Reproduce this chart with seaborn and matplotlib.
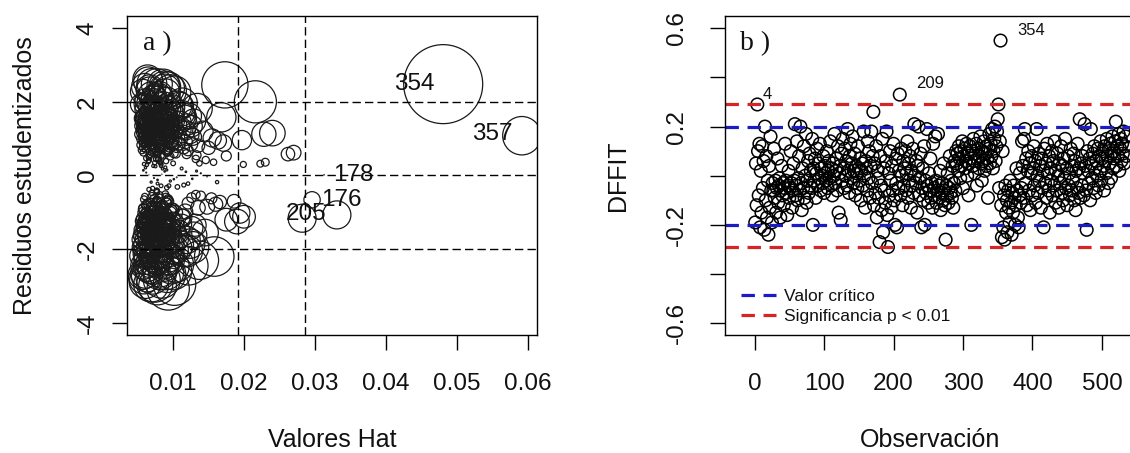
import numpy as np
import pandas as pd
import matplotlib
matplotlib.use("Agg")
import matplotlib.pyplot as plt
import seaborn as sns

# ---------------- panel a: leverage vs studentized residuals ----------------
hat_core = [
    0.0064, 0.0081, 0.0070, 0.0092, 0.0058, 0.0076, 0.0087, 0.0067, 0.0099, 0.0073,
    0.0060, 0.0084, 0.0078, 0.0069, 0.0095, 0.0062, 0.0089, 0.0074, 0.0057, 0.0082,
    0.0071, 0.0093, 0.0066, 0.0079, 0.0086, 0.0061, 0.0075, 0.0103, 0.0068, 0.0090,
    0.0077, 0.0059, 0.0085, 0.0072, 0.0096, 0.0065, 0.0080, 0.0070, 0.0088, 0.0063,
    0.0091, 0.0074, 0.0060, 0.0083, 0.0069, 0.0097, 0.0076, 0.0062, 0.0086, 0.0071,
]
resid_core_up = [
    1.02, 1.44, 0.78, 1.16, 1.27, 0.66, 1.51, 1.35, 0.83, 1.07,
    1.19, 0.94, 1.61, 1.29, 1.38, 0.72, 1.09, 1.47, 1.55, 0.81,
    1.24, 1.52, 1.06, 0.89, 1.32, 1.42, 1.14, 0.91, 0.99, 1.40,
    0.57, 1.31, 1.25, 1.66, 0.86, 1.08, 0.97, 1.78, 1.19, 1.56,
    0.65, 1.37, 1.15, 0.74, 1.49, 1.23, 1.01, 0.93, 1.71, 1.28,
]
resid_core_low = [
    -1.12, -1.54, -0.88, -1.26, -1.37, -0.76, -1.61, -1.45, -0.93, -1.17,
    -1.29, -1.04, -1.71, -1.39, -1.48, -0.82, -1.19, -1.57, -1.65, -0.91,
    -1.34, -1.62, -1.16, -0.99, -1.42, -1.52, -1.24, -1.01, -1.09, -1.50,
    -0.67, -1.41, -1.35, -1.76, -0.96, -1.18, -1.07, -1.88, -1.29, -1.66,
    -0.75, -1.47, -1.25, -0.84, -1.59, -1.33, -1.11, -1.03, -1.81, -1.38,
]
hat_edge = [0.0112, 0.0121, 0.0129, 0.0117, 0.0135, 0.0124, 0.0114, 0.0132, 0.0126, 0.0119]
resid_edge_up = [1.25, 0.68, 1.48, 0.92, 0.81, 1.10, 1.63, 0.45, 1.34, 0.58]
resid_edge_low = [-1.32, -0.75, -1.62, -0.98, -0.88, -1.85, -1.15, -0.52, -1.42, -2.05]

hat_vals = [
    # upper cloud
    0.0061, 0.0072, 0.0085, 0.0058, 0.0093, 0.0067, 0.0079, 0.0102, 0.0064, 0.0088,
    0.0075, 0.0056, 0.0097, 0.0069, 0.0083, 0.0110, 0.0063, 0.0091, 0.0071, 0.0059,
    0.0087, 0.0066, 0.0078, 0.0105, 0.0060, 0.0094, 0.0073, 0.0082, 0.0057, 0.0099,
    0.0068, 0.0090, 0.0062, 0.0077, 0.0115, 0.0084, 0.0055, 0.0070, 0.0096, 0.0065,
    0.0080, 0.0059, 0.0092, 0.0074, 0.0063, 0.0101, 0.0086, 0.0067, 0.0108, 0.0076,
    0.0061, 0.0089, 0.0071, 0.0054, 0.0095, 0.0081, 0.0066, 0.0112, 0.0073, 0.0058,
    0.0098, 0.0069, 0.0084, 0.0060, 0.0078, 0.0093, 0.0064, 0.0087, 0.0075, 0.0104,
    0.0057, 0.0072, 0.0118, 0.0066, 0.0090, 0.0079, 0.0062, 0.0100, 0.0083, 0.0070,
    0.0086, 0.0059, 0.0077, 0.0095, 0.0065, 0.0081, 0.0107, 0.0072, 0.0056, 0.0091,
    0.0063, 0.0085, 0.0074, 0.0102, 0.0068, 0.0060, 0.0089, 0.0079, 0.0097, 0.0071,
    0.0058, 0.0094, 0.0067, 0.0082, 0.0113, 0.0075, 0.0061, 0.0088, 0.0070, 0.0099,
    0.0084, 0.0065, 0.0076, 0.0092, 0.0056, 0.0080, 0.0069, 0.0105, 0.0062, 0.0087,
    0.0073, 0.0090, 0.0059, 0.0078, 0.0096, 0.0066, 0.0083, 0.0071, 0.0110, 0.0064,
    0.0087, 0.0070, 0.0061, 0.0101, 0.0077, 0.0054, 0.0093, 0.0068, 0.0082, 0.0075,
    0.0095, 0.0062, 0.0080, 0.0072, 0.0116, 0.0088, 0.0066, 0.0058, 0.0085, 0.0109,
    # lower cloud
    0.0063, 0.0078, 0.0056, 0.0091, 0.0070, 0.0084, 0.0060, 0.0099, 0.0073, 0.0066,
    0.0088, 0.0059, 0.0075, 0.0103, 0.0068, 0.0081, 0.0057, 0.0094, 0.0072, 0.0062,
    0.0079, 0.0065, 0.0092, 0.0055, 0.0086, 0.0071, 0.0108, 0.0061, 0.0077, 0.0097,
    0.0069, 0.0083, 0.0058, 0.0074, 0.0090, 0.0064, 0.0101, 0.0080, 0.0067, 0.0112,
    0.0060, 0.0087, 0.0076, 0.0095, 0.0063, 0.0070, 0.0082, 0.0057, 0.0093, 0.0072,
    0.0085, 0.0066, 0.0078, 0.0059, 0.0104, 0.0074, 0.0089, 0.0068, 0.0061, 0.0096,
    0.0071, 0.0092, 0.0064, 0.0081, 0.0056, 0.0077, 0.0099, 0.0069, 0.0086, 0.0062,
    0.0075, 0.0058, 0.0090, 0.0067, 0.0083, 0.0106, 0.0072, 0.0060, 0.0079, 0.0094,
    0.0064, 0.0087, 0.0073, 0.0055, 0.0080, 0.0098, 0.0066, 0.0091, 0.0070, 0.0084,
    0.0059, 0.0076, 0.0102, 0.0068, 0.0089, 0.0062, 0.0074, 0.0115, 0.0081, 0.0065,
    0.0093, 0.0070, 0.0057, 0.0085, 0.0072, 0.0061, 0.0097, 0.0078, 0.0067, 0.0088,
    0.0063, 0.0081, 0.0075, 0.0100, 0.0058, 0.0069, 0.0090, 0.0073, 0.0060, 0.0086,
    0.0077, 0.0066, 0.0095, 0.0071, 0.0083, 0.0059, 0.0109, 0.0064, 0.0079, 0.0092,
    0.0068, 0.0088, 0.0062, 0.0104, 0.0074, 0.0056, 0.0081, 0.0090, 0.0071, 0.0097,
    # near zero
    0.0062, 0.0078, 0.0091, 0.0105, 0.0118, 0.0069, 0.0084, 0.0127, 0.0139, 0.0058,
    0.0096, 0.0112, 0.0148, 0.0073, 0.0088, 0.0162, 0.0121, 0.0066, 0.0133, 0.0101,
    0.0059, 0.0071, 0.0083, 0.0094, 0.0065, 0.0077, 0.0089, 0.0106, 0.0074, 0.0115,
    # scattered, upper
    0.0173, 0.0216, 0.0122, 0.0134, 0.0142, 0.0155, 0.0168, 0.0128, 0.0150, 0.0163,
    0.0171, 0.0197, 0.0228, 0.0240, 0.0175, 0.0199, 0.0223, 0.0230, 0.0262, 0.0270,
    0.0133, 0.0146, 0.0125, 0.0119, 0.0137, 0.0157,
    # scattered, lower
    0.0158, 0.0137, 0.0122, 0.0194, 0.0200, 0.0175, 0.0148, 0.0160, 0.0166, 0.0126,
    0.0139, 0.0131, 0.0119, 0.0128, 0.0145, 0.0102, 0.0059, 0.0093, 0.0078, 0.0154,
    0.0186, 0.0190,
    # unlabelled point near 176
    0.0331,
] + hat_core + hat_core + hat_edge + hat_edge
resid_vals = [
    1.12, 0.85, 1.43, 0.62, 1.05, 1.71, 0.48, 1.26, 0.97, 1.58,
    0.73, 1.35, 0.91, 1.88, 0.56, 1.02, 1.49, 0.67, 1.21, 0.88,
    1.64, 0.41, 1.09, 1.37, 1.95, 0.79, 1.53, 0.35, 1.18, 0.95,
    0.58, 1.29, 2.05, 0.92, 0.74, 1.81, 0.83, 1.41, 0.52, 1.15,
    2.18, 1.06, 0.64, 1.74, 0.29, 1.48, 0.99, 2.31, 0.87, 0.45,
    1.62, 2.22, 0.70, 1.93, 1.11, 0.38, 1.27, 1.69, 2.09, 0.76,
    1.84, 0.95, 1.55, 2.41, 0.61, 2.37, 1.39, 0.81, 1.99, 0.59,
    2.28, 1.33, 1.22, 0.50, 1.76, 2.14, 0.90, 0.33, 1.03, 2.50,
    2.45, 1.59, 0.68, 1.44, 2.55, 1.17, 1.91, 0.26, 1.00, 2.02,
    0.82, 0.54, 1.86, 2.26, 1.08, 1.79, 1.62, 0.44, 1.13, 1.52,
    1.46, 0.71, 2.36, 1.24, 1.97, 0.97, 0.21, 2.40, 0.63, 1.68,
    0.88, 1.98, 1.31, 1.10, 0.69, 1.57, 2.19, 0.78, 1.36, 1.92,
    2.12, 0.39, 0.94, 1.67, 2.30, 0.55, 0.31, 1.04, 1.45, 2.60,
    1.20, 1.73, 1.39, 0.60, 2.48, 1.12, 1.81, 0.86, 2.08, 0.25,
    1.33, 0.47, 0.75, 2.03, 1.58, 2.33, 1.83, 1.54, 0.18, 1.88,
    -1.05, -0.72, -1.48, -1.21, -0.55, -1.87, -2.12, -0.93, -1.63, -0.38,
    -1.34, -2.45, -0.84, -1.56, -1.98, -0.61, -1.17, -2.27, -1.41, -0.79,
    -2.05, -1.26, -0.68, -1.74, -2.38, -0.97, -1.52, -2.66, -0.46, -1.89,
    -1.59, -1.11, -0.89, -2.19, -0.74, -1.37, -2.02, -1.69, -2.53, -1.14,
    -0.57, -2.31, -1.80, -1.03, -2.74, -0.83, -1.45, -1.95, -0.64, -2.24,
    -1.66, -2.08, -0.99, -1.29, -2.42, -1.77, -0.51, -1.10, -2.90, -1.40,
    -2.15, -1.84, -0.76, -2.58, -1.62, -0.42, -1.23, -1.92, -2.01, -1.33,
    -0.88, -1.01, -2.62, -1.51, -0.28, -1.97, -2.35, -1.73, -1.19, -0.70,
    -2.49, -1.46, -0.62, -2.18, -1.86, -2.47, -1.08, -0.33, -1.70, -2.83,
    -1.91, -2.29, -1.26, -0.95, -1.58, -2.20, -1.38, -2.05, -0.53, -1.82,
    -2.21, -0.47, -2.70, -0.81, -2.54, -1.16, -1.78, -0.22, -2.39, -1.05,
    -1.63, -2.12, -1.43, -2.60, -0.92, -2.96, -0.59, -1.89, -1.30, -2.44,
    -1.21, -1.53, -2.08, -2.77, -1.68, -0.65, -1.88, -1.97, -2.30, -2.68,
    -0.73, -1.36, -2.33, -1.72, -2.95, -1.24, -2.64, -1.12, -1.57, -0.98,
    0.08, -0.12, 0.15, -0.05, 0.10, -0.18, 0.03, -0.09, 0.06, 0.14,
    -0.15, 0.19, -0.03, -0.07, 0.11, -0.18, -0.22, 0.02, 0.12, -0.10,
    0.31, -0.35, 0.26, -0.28, 0.38, -0.41, 0.22, -0.31, 0.35, -0.26,
    2.46, 2.00, 1.62, 1.82, 1.20, 1.02, 1.58, 1.05, 0.75, 0.95,
    0.88, 0.96, 1.12, 1.15, 0.53, 0.30, 0.32, 0.36, 0.58, 0.62,
    0.55, 0.42, 0.85, 1.38, 0.33, 0.36,
    -2.20, -2.30, -2.45, -1.02, -1.12, -1.20, -0.85, -0.78, -0.72, -0.60,
    -0.55, -1.35, -1.75, -1.95, -1.55, -2.95, -2.80, -3.08, -3.00, -0.62,
    -0.70, -1.25,
    -1.07,
] + resid_core_up + resid_core_low + resid_edge_up + resid_edge_low

# labelled observations in panel a
lab_names = ["354", "357", "205", "176", "178"]
lab_hat = [0.0481, 0.0592, 0.0282, 0.0296, 0.0313]
lab_resid = [2.48, 1.08, -1.16, -0.66, 0.02]
lab_offset = [(-6, 0), (-7, 1.5), (3, 3), (6.5, 0), (6.5, 0)]
lab_ha = ["right", "right", "center", "left", "left"]

# ---------------- panel b: DFFIT by observation ----------------
dffit = [
    -0.19, 0.05, -0.12, 0.29, 0.10, -0.08, 0.13, -0.21, 0.02, -0.15,
    0.12, -0.05, 0.06, -0.22, 0.20, -0.10, 0.08, -0.17, -0.02, -0.24,
    0.04, -0.13, 0.16, -0.06, -0.19, -0.03, -0.06, 0.11, -0.09, -0.02,
    -0.15, -0.05, 0.07, -0.11, -0.04, -0.01, -0.17, -0.06, 0.04, -0.08,
    -0.03, -0.12, -0.05, 0.13, -0.02, -0.07, -0.16, -0.04, 0.02, -0.09,
    -0.05, 0.10, -0.03, -0.13, -0.06, 0.05, -0.02, 0.21, -0.08, -0.04,
    0.14, -0.10, -0.01, 0.08, -0.06, 0.20, -0.03, -0.14, 0.03, -0.05,
    0.12, -0.09, 0.00, 0.17, -0.11, -0.02, 0.06, -0.07, 0.09, -0.04,
    0.02, -0.05, 0.15, -0.20, 0.03, -0.02, 0.07, -0.09, 0.01, 0.11,
    -0.04, 0.05, -0.01, 0.13, -0.06, 0.03, 0.00, -0.03, 0.08, -0.07,
    0.04, 0.01, -0.02, 0.10, -0.05, 0.02, 0.06, -0.01, 0.14, -0.04,
    0.03, -0.08, 0.05, 0.00, 0.17, -0.03, 0.02, 0.07, -0.06, 0.12,
    -0.15, 0.01, 0.04, -0.18, 0.09, -0.02, 0.15, 0.03, -0.05, 0.11,
    0.00, 0.06, -0.04, 0.19, 0.02, -0.07, 0.08, 0.13, -0.01, 0.05,
    0.16, -0.03, 0.02, 0.09, -0.08, 0.04, 0.01, -0.05, 0.12, 0.03,
    -0.02, 0.07, -0.10, 0.02, 0.05, -0.04, 0.18, 0.00, -0.13, 0.06,
    0.03, -0.06, 0.14, -0.01, 0.10, -0.09, 0.04, 0.18, -0.03, 0.08,
    0.26, -0.12, 0.05, -0.07, 0.12, -0.17, 0.02, -0.01, -0.09, -0.27,
    0.08, -0.04, -0.14, 0.15, -0.23, 0.03, -0.06, -0.11, 0.06, 0.18,
    -0.16, -0.29, 0.01, -0.08, 0.10, -0.02, -0.13, 0.04, -0.06, 0.13,
    -0.10, -0.20, 0.07, -0.03, -0.21, 0.09, -0.05, 0.02, 0.33, -0.08,
    0.11, 0.00, -0.12, 0.06, -0.04, 0.03, 0.10, -0.06, 0.01, 0.14,
    -0.09, 0.05, -0.02, 0.08, -0.13, 0.02, -0.04, 0.11, -0.07, 0.21,
    0.00, -0.03, 0.06, -0.15, 0.04, 0.20, -0.08, -0.01, 0.09, -0.21,
    -0.05, 0.03, -0.10, 0.12, -0.20, -0.02, -0.07, 0.19, -0.04, -0.11,
    0.01, -0.06, 0.07, -0.09, -0.03, -0.13, 0.13, -0.05, -0.08, 0.16,
    -0.02, -0.11, -0.06, 0.17, -0.04, -0.09, 0.02, -0.14, -0.07, -0.03,
    -0.10, 0.05, -0.06, -0.12, -0.26, -0.04, -0.08, 0.01, -0.11, -0.05,
    0.08, -0.07, -0.02, -0.09, 0.04, -0.13, -0.03, 0.06, -0.06, 0.10,
    0.05, 0.09, 0.02, 0.12, 0.07, -0.01, 0.10, 0.04, 0.14, -0.05,
    0.08, 0.11, 0.03, 0.06, 0.13, 0.00, 0.09, -0.08, 0.05, 0.12,
    0.07, -0.20, 0.10, 0.04, 0.15, 0.06, 0.01, 0.09, 0.13, -0.04,
    0.07, 0.11, 0.03, 0.08, 0.16, 0.05, -0.02, 0.10, 0.06, 0.14,
    0.02, 0.09, 0.12, 0.04, 0.07, -0.09, 0.11, 0.17, 0.05, 0.13,
    0.08, 0.19, 0.03, 0.10, 0.15, 0.20, 0.06, 0.12, 0.18, 0.23,
    0.29, -0.05, 0.14, 0.55, -0.12, -0.25, 0.10, -0.21, -0.08, -0.26,
    -0.04, -0.15, -0.10, -0.23, -0.06, -0.13, -0.19, -0.02, -0.11, -0.24,
    -0.07, -0.15, -0.04, -0.09, -0.20, -0.12, 0.03, -0.06, -0.17, -0.21,
    -0.08, 0.01, -0.11, -0.05, 0.14, 0.04, -0.09, 0.15, 0.19, -0.03,
    0.07, -0.12, 0.02, 0.10, -0.06, 0.05, -0.14, 0.01, 0.08, -0.08,
    0.03, 0.12, -0.04, 0.06, -0.11, 0.19, 0.00, -0.07, 0.09, -0.02,
    0.04, -0.13, 0.07, -0.05, 0.02, -0.21, 0.11, -0.03, 0.05, -0.09,
    0.13, 0.01, -0.06, 0.08, -0.15, 0.03, -0.02, 0.10, -0.08, 0.06,
    -0.04, 0.14, -0.11, 0.02, -0.06, 0.09, 0.00, -0.13, 0.05, -0.03,
    0.12, -0.07, 0.04, -0.10, 0.07, -0.01, 0.15, -0.05, 0.03, -0.12,
    0.08, -0.04, 0.01, -0.08, 0.11, -0.06, 0.04, -0.02, 0.09, -0.10,
    0.06, -0.14, 0.02, -0.05, 0.13, -0.07, 0.03, 0.23, -0.09, 0.05,
    -0.04, 0.08, 0.01, -0.08, 0.21, 0.04, -0.06, -0.22, 0.10, 0.02,
    -0.03, 0.07, -0.10, 0.19, 0.05, -0.01, 0.09, -0.05, 0.12, 0.03,
    -0.07, 0.06, 0.00, 0.11, -0.04, 0.08, 0.02, 0.14, -0.02, 0.07,
    0.10, 0.04, -0.06, 0.12, 0.06, 0.01, 0.15, 0.08, -0.03, 0.11,
    0.05, 0.13, -0.01, 0.09, 0.16, 0.03, 0.10, 0.07, 0.14, 0.22,
    0.04, 0.12, 0.08, 0.17, 0.02, 0.11, 0.15, 0.06, 0.13, 0.09,
    0.18, 0.05, 0.12, 0.16, 0.08,
]
b_labels = ["4", "209", "354"]
b_offset = [(3.5, 7), (11.5, 8), (12, 7)]

crit = 0.2
sig = 0.29
hat_cuts = [0.0191, 0.0286]

# ---------------------------------------------------------------
sns.set_theme(style="ticks")
plt.rcParams["font.family"] = ["Liberation Sans", "DejaVu Sans"]
plt.rcParams["text.color"] = "black"
plt.rcParams["axes.labelcolor"] = "black"

blue = "#1c1cc4"
red = "#d42626"

fig = plt.figure(figsize=(11.3, 4.53), dpi=100)
ax1 = fig.add_axes([0.1127, 0.2605, 0.3623, 0.7042])
ax2 = fig.add_axes([0.6416, 0.2605, 0.3628, 0.7042])

# panel a
df_a = pd.DataFrame({"hat": hat_vals + lab_hat, "resid": resid_vals + lab_resid})
df_a["cook"] = df_a["resid"] ** 2 * df_a["hat"] / (1 - df_a["hat"])
sns.scatterplot(data=df_a, x="hat", y="resid", size="cook", sizes=(0, 3236),
                size_norm=(0, df_a["cook"].max()), facecolor="none",
                edgecolor="#1a1a1a", linewidth=0.9, legend=False, ax=ax1)

for yv in (-2, 0, 2):
    ax1.axhline(yv, color="black", lw=1.0, ls=(0, (6, 3)))
for xv in hat_cuts:
    ax1.axvline(xv, color="black", lw=1.0, ls=(0, (6, 3)))

for name, hx, ry, off, ha in zip(lab_names, lab_hat, lab_resid, lab_offset, lab_ha):
    ax1.annotate(name, xy=(hx, ry), xytext=off, textcoords="offset points",
                 ha=ha, va="center", fontsize=17.5, color="#111111")

ax1.set_xlim(0.00354, 0.0613)
ax1.set_ylim(-4.33, 4.33)
ax1.set_xticks([0.01, 0.02, 0.03, 0.04, 0.05, 0.06],
               labels=["0.01", "0.02", "0.03", "0.04", "0.05", "0.06"])
ax1.set_yticks([-4, -2, 0, 2, 4], labels=["-4", "-2", "0", "2", "4"])
ax1.set_xlabel("Valores Hat", fontsize=18, va="center", color="#111111")
ax1.set_ylabel("Residuos estudentizados", fontsize=18, va="center", color="#111111")
ax1.xaxis.set_label_coords(0.5, -0.33)
ax1.yaxis.set_label_coords(-0.250, 0.5)
ax1.text(0.038, 0.953, "a )", transform=ax1.transAxes, ha="left", va="top",
         fontsize=20, family="Liberation Serif", color="#111111")
ax1.tick_params(axis="y", pad=9.7)

# panel b
obs = np.arange(1, len(dffit) + 1)
df_b = pd.DataFrame({"obs": obs, "dffit": dffit})
sns.scatterplot(data=df_b, x="obs", y="dffit", s=82, facecolor="none",
                edgecolor="black", linewidth=1.1, legend=False, ax=ax2)

dash_b = (0, (4.2, 2.7))
ax2.axhline(crit, color=blue, lw=2.3, ls=dash_b, label="Valor crítico")
ax2.axhline(-crit, color=blue, lw=2.3, ls=dash_b)
ax2.axhline(sig, color=red, lw=2.3, ls=dash_b, label="Significancia p < 0.01")
ax2.axhline(-sig, color=red, lw=2.3, ls=dash_b)

for name, off in zip(b_labels, b_offset):
    i = int(name) - 1
    ax2.annotate(name, xy=(obs[i], dffit[i]), xytext=off, textcoords="offset points",
                 ha="left", va="center", fontsize=12, color="#111111")

ax2.set_xlim(-42.5, 547.5)
ax2.set_ylim(-0.648, 0.65)
ax2.set_xticks([0, 100, 200, 300, 400, 500],
               labels=["0", "100", "200", "300", "400", "500"])
ax2.set_yticks([-0.6, -0.4, -0.2, 0.0, 0.2, 0.4, 0.6],
               labels=["-0.6", "", "-0.2", "", "0.2", "", "0.6"])
ax2.set_xlabel("Observación", fontsize=18, va="center", color="#111111")
ax2.set_ylabel("DFFIT", fontsize=18, va="center", color="#111111")
ax2.xaxis.set_label_coords(0.5, -0.33)
ax2.yaxis.set_label_coords(-0.261, 0.5)
ax2.text(0.0366, 0.953, "b )", transform=ax2.transAxes, ha="left", va="top",
         fontsize=20, family="Liberation Serif", color="#111111")
ax2.tick_params(axis="y", pad=15.8)
ax2.legend(loc="lower left", bbox_to_anchor=(0.039, 0.034), frameon=False,
           fontsize=12.5, handlelength=2.0, handletextpad=0.45,
           labelspacing=0.3, borderpad=0, borderaxespad=0,
           labelcolor="#111111")

for ax in (ax1, ax2):
    ax.tick_params(axis="both", length=10.8, width=1.0, direction="out",
                   color="black", labelcolor="#111111", labelsize=17.5)
    ax.tick_params(axis="x", pad=16.5)
    for t in ax.get_yticklabels():
        t.set_rotation(90)
        t.set_va("center")
    for sp in ax.spines.values():
        sp.set_visible(True)
        sp.set_color("black")
        sp.set_linewidth(1.0)

fig.savefig("out.png", dpi=100, facecolor="white")
